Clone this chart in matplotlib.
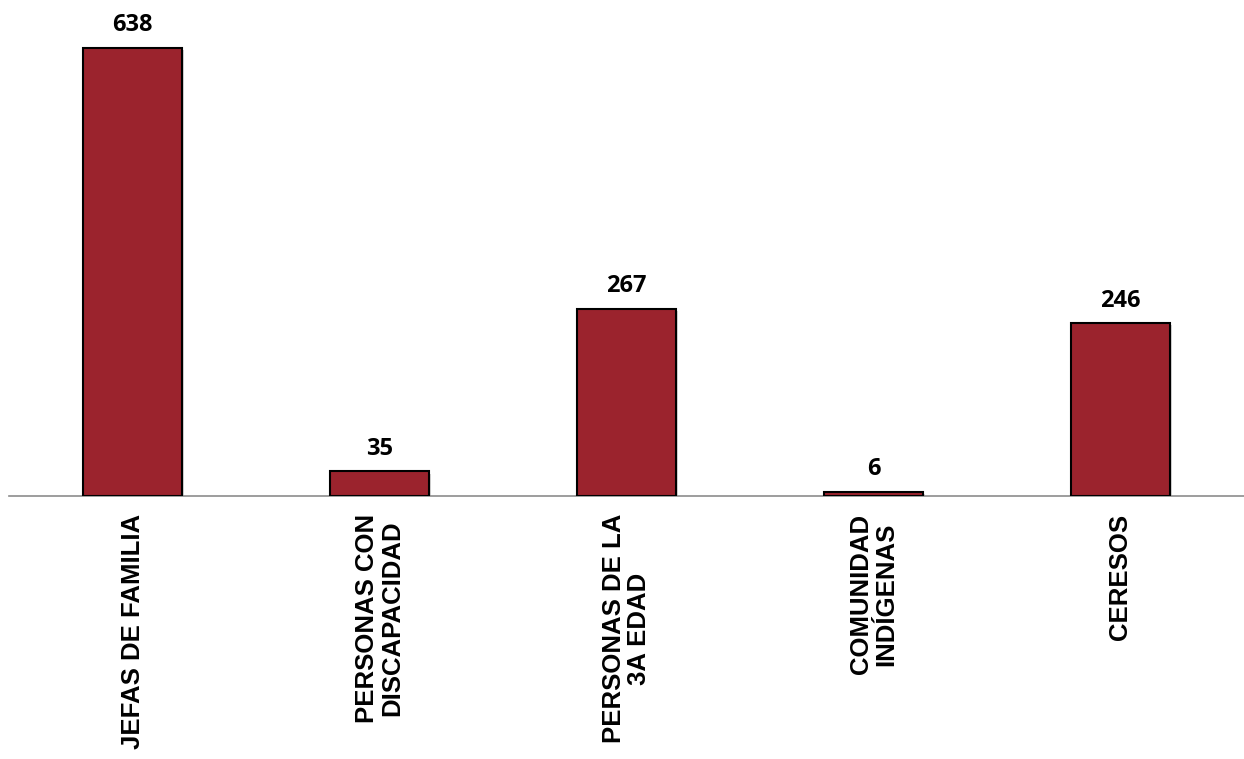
import matplotlib.pyplot as plt
import matplotlib.patheffects as pe
import numpy as np

# datos
categorias = ['JEFAS DE FAMILIA', 'PERSONAS CON\nDISCAPACIDAD', 'PERSONAS DE LA\n3A EDAD',
              'COMUNIDAD\nINDÍGENAS', 'CERESOS']
valores = [638, 35, 267, 6, 246]

color_barra = '#9B232D'

fig = plt.figure(figsize=(12.44, 7.59), dpi=100)
ax = fig.add_axes([9 / 1244, 1 - 496 / 759, 1235 / 1244, 486 / 759])

x = np.arange(len(categorias))
barras = ax.bar(x, valores, 0.4, color=color_barra, edgecolor='black', linewidth=1.5, zorder=3)
for b in barras:
    b.set_path_effects([pe.SimplePatchShadow(offset=(1.5, -1.5), shadow_rgbFace='#888888', alpha=0.35),
                        pe.Normal()])

ax.set_xlim(-0.5, len(categorias) - 0.5)
ax.set_ylim(0, 486 / (448 / 638))

for s in ['top', 'right', 'left']:
    ax.spines[s].set_visible(False)
ax.spines['bottom'].set_color('#8c8c8c')
ax.spines['bottom'].set_linewidth(1.2)
ax.set_yticks([])

ax.set_xticks(x)
ax.set_xticklabels(categorias, rotation=90, fontsize=18.5, fontweight='bold',
                   family='Liberation Sans', linespacing=1.1, multialignment='center')
ax.tick_params(axis='x', length=0, pad=13)

# etiquetas de valor
for b, v in zip(barras, valores):
    ax.annotate(str(v), (b.get_x() + b.get_width() / 2, v), xytext=(0, 12),
                textcoords='offset points', ha='center', va='baseline',
                fontsize=17, fontweight='bold', family='Open Sans')

fig.savefig('out.png', dpi=100)
